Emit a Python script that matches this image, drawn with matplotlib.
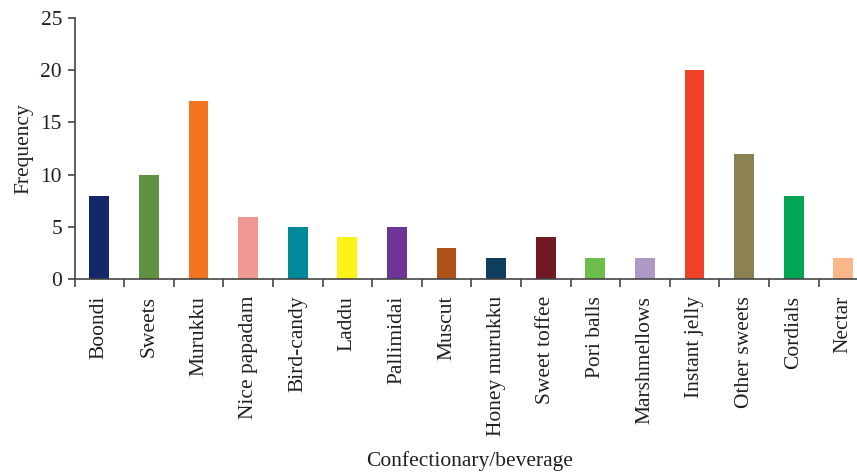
import matplotlib
matplotlib.use("Agg")
import matplotlib.pyplot as plt
import numpy as np

categories = ["Boondi", "Sweets", "Murukku", "Nice papadam", "Bird-candy", "Laddu",
              "Pallimidai", "Muscut", "Honey murukku", "Sweet toffee", "Pori balls",
              "Marshmellows", "Instant jelly", "Other sweets", "Cordials", "Nectar"]
frequency = [8, 10, 17, 6, 5, 4, 5, 3, 2, 4, 2, 2, 20, 12, 8, 2]
bar_colors = ["#13286A", "#5E923E", "#F37321", "#F09894", "#00899A", "#FFF21A",
              "#6E3596", "#B0521A", "#0D3E5E", "#6E1A20", "#6CBE4A", "#AE98C6",
              "#EE4125", "#8C8150", "#00A651", "#F9B789"]
y_ticks = [0, 5, 10, 15, 20, 25]

plt.rcParams['font.family'] = ['Liberation Serif', 'DejaVu Serif']
text_color = "#231F20"
fs = 15.5
W, H = 857, 472
fig = plt.figure(figsize=(W / 100, H / 100), dpi=100)
left, right = 74.5, 857
bottom, top = 279.3, 17.7
ax = fig.add_axes([left / W, 1 - bottom / H, (right - left) / W, (bottom - top) / H])

x = np.arange(len(categories))
ax.bar(x, frequency, width=0.4, color=bar_colors, zorder=2)

step = 49.6
ax.set_xlim(-0.5, -0.5 + (right - left) / step)
ax.set_ylim(0, 25)
ax.set_yticks(y_ticks)
ax.set_xticks(x)
ax.set_xticklabels(categories, rotation=90, fontsize=fs, color=text_color)
ax.set_xticks(np.arange(len(categories)) - 0.5, minor=True)
ax.tick_params(axis='x', which='major', length=0, pad=12)
ax.tick_params(axis='x', which='minor', length=6, width=1.2, color="#444444", direction='out')
ax.tick_params(axis='y', length=5, width=1.2, color="#444444", labelsize=fs,
               labelcolor=text_color, pad=4)

for s in ["top", "right"]:
    ax.spines[s].set_visible(False)
for s in ["left", "bottom"]:
    ax.spines[s].set_color("#444444")
    ax.spines[s].set_linewidth(1.2)

ax.set_ylabel("Frequency", fontsize=fs, color=text_color, labelpad=5)
fig.text(470 / W, 1 - 461 / H, "Confectionary/beverage", fontsize=fs, color=text_color,
         ha='center', va='center')

fig.savefig("out.png", dpi=100)
